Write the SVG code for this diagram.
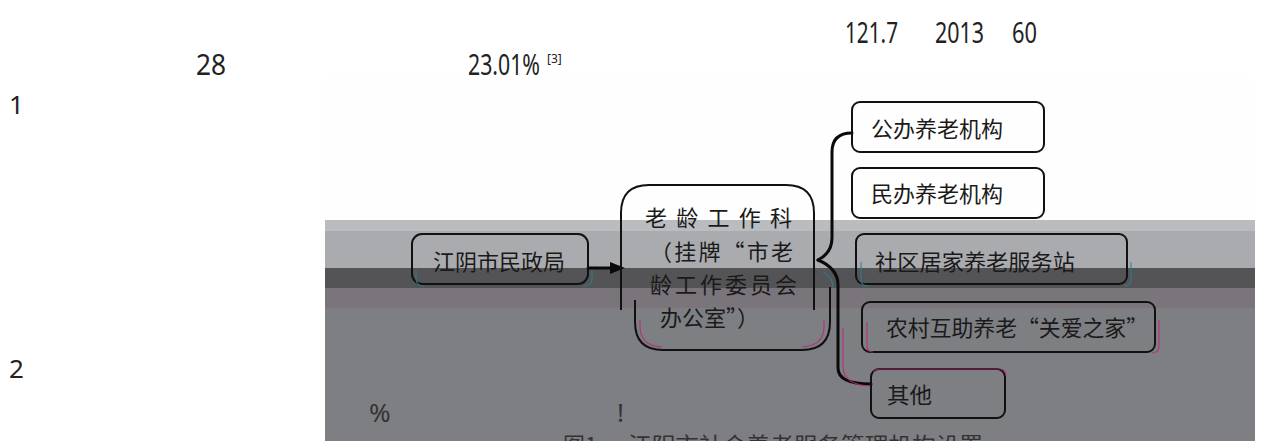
<svg xmlns="http://www.w3.org/2000/svg" width="1262" height="441" viewBox="0 0 1262 441">
<style>
.num{font-family:"Noto Sans","Liberation Sans",sans-serif;fill:#222;}
.cjk{font-family:"Noto Sans CJK SC","Noto Sans CJK JP",sans-serif;fill:#1a1a1a;font-size:22px;}
.box{fill:none;stroke:#111;stroke-width:2;}
.conn{fill:none;stroke:#0a0a0a;stroke-width:3;stroke-linecap:round;}
.ghostm{fill:none;stroke:#b8287a;stroke-width:1.2;opacity:0.8;}
.ghostt{fill:none;stroke:#2d7f95;stroke-width:1.2;opacity:0.8;}
.dim{fill:#333;}
</style>
<rect x="0" y="0" width="1262" height="441" fill="#ffffff"/>
<g id="bands">
<rect x="325" y="78" width="930" height="142" fill="#fefefe"/>
<rect x="325" y="220" width="930" height="11" fill="#b9bdc0"/>
<rect x="325" y="231" width="930" height="37" fill="#aaabaf"/>
<rect x="325" y="268" width="930" height="20" fill="#545456"/>
<rect x="325" y="288" width="930" height="20" fill="#7a757b"/>
<rect x="325" y="308" width="930" height="133" fill="#7e7f83"/>
</g>
<g id="page-text">
<text class="num" x="845" y="43" font-size="29" textLength="53" lengthAdjust="spacingAndGlyphs">121.7</text>
<text class="num" x="935" y="43" font-size="29" textLength="49" lengthAdjust="spacingAndGlyphs">2013</text>
<text class="num" x="1012" y="43" font-size="29" textLength="25" lengthAdjust="spacingAndGlyphs">60</text>
<text class="num" x="196" y="75" font-size="29" textLength="30" lengthAdjust="spacingAndGlyphs">28</text>
<text class="num" x="468" y="75" font-size="29"><tspan textLength="72" lengthAdjust="spacingAndGlyphs">23.01%</tspan><tspan x="547" y="63" font-size="12">[3]</tspan></text>
<text class="num" x="9" y="114" font-size="26">1</text>
<text class="num" x="9" y="378" font-size="26">2</text>
<text class="num dim" x="369" y="422" font-size="26">%</text>
<text class="num dim" x="617" y="422" font-size="26">!</text>
<text class="cjk dim" x="563" y="453" font-size="23">图1</text>
<text class="cjk dim" x="628" y="453" font-size="23" textLength="355" lengthAdjust="spacingAndGlyphs">江阴市社会养老服务管理机构设置</text>
</g>
<g id="connectors">
<line class="conn" x1="588" y1="268" x2="612" y2="268"/>
<polygon points="610,262 625,268 610,274" fill="#0a0a0a"/>
<path class="conn" d="M852,133 C838,133 832,140 832,152 V238 C832,250 826,256 818,260"/>
<path class="conn" d="M818,260 C830,265 838,272 838,285 V368 C838,378 848,384 871,384"/>
<path class="ghostm" d="M843,328 V366 C843,378 852,386 871,386"/>
<path class="ghostt" d="M823,272 C830,276 833,280 833,288"/>
</g>
<g id="node-mzj">
<rect class="box" x="412" y="234" width="176" height="50" rx="10"/>
<path class="ghostt" d="M416,270 V278 Q416,286 424,286 M592,270 V278 Q592,286 584,286"/>
<text class="cjk" x="433" y="269.5" textLength="132" lengthAdjust="spacingAndGlyphs">江阴市民政局</text>
</g>
<g id="node-llgzk">
<path class="box" d="M621,310 V213 Q621,185 649,185 H786 Q814,185 814,213 V310"/>
<path class="box" d="M635,300 V322 Q635,350 663,350 H802 Q830,350 830,322 V287"/>
<path class="ghostm" d="M640,320 V326 Q640,346 662,347 M824,320 V326 Q824,346 802,347"/>
<text class="cjk" x="645" y="225.5" textLength="147" lengthAdjust="spacing">老龄工作科</text>
<text class="cjk" x="650" y="259.5" textLength="143" lengthAdjust="spacing">（挂牌“市老</text>
<text class="cjk" x="650" y="292.5" textLength="147" lengthAdjust="spacing">龄工作委员会</text>
<text class="cjk" x="660" y="325.5">办公室”）</text>
</g>
<g id="node-gb">
<rect class="box" x="852" y="102" width="192" height="50" rx="8" fill="#fff"/>
<text class="cjk" x="871" y="136.5" textLength="132" lengthAdjust="spacingAndGlyphs">公办养老机构</text>
</g>
<g id="node-mb">
<rect class="box" x="852" y="168" width="192" height="50" rx="8" fill="#fff"/>
<text class="cjk" x="871" y="201.5" textLength="132" lengthAdjust="spacingAndGlyphs">民办养老机构</text>
</g>
<g id="node-sq">
<rect class="box" x="856" y="234" width="271" height="50" rx="8"/>
<path class="ghostt" d="M861,262 V280 Q861,286 868,286 M1131,262 V280 Q1131,286 1124,286"/>
<text class="cjk" x="875" y="269.5" textLength="200" lengthAdjust="spacingAndGlyphs">社区居家养老服务站</text>
</g>
<g id="node-nc">
<rect class="box" x="862" y="302" width="293" height="50" rx="8"/>
<path class="ghostm" d="M867,322 V346 Q867,352 873,352 M1159,320 V346 Q1159,353 1152,353"/>
<text class="cjk" x="886" y="335.5" textLength="262" lengthAdjust="spacingAndGlyphs">农村互助养老“关爱之家”</text>
</g>
<g id="node-qt">
<rect class="box" x="871" y="369" width="134" height="49" rx="8"/>
<path class="ghostm" d="M874,372 Q874,369 880,369 H1000 Q1006,369 1006,376"/>
<text class="cjk" x="887" y="402.5" textLength="45" lengthAdjust="spacingAndGlyphs">其他</text>
</g>
</svg>
